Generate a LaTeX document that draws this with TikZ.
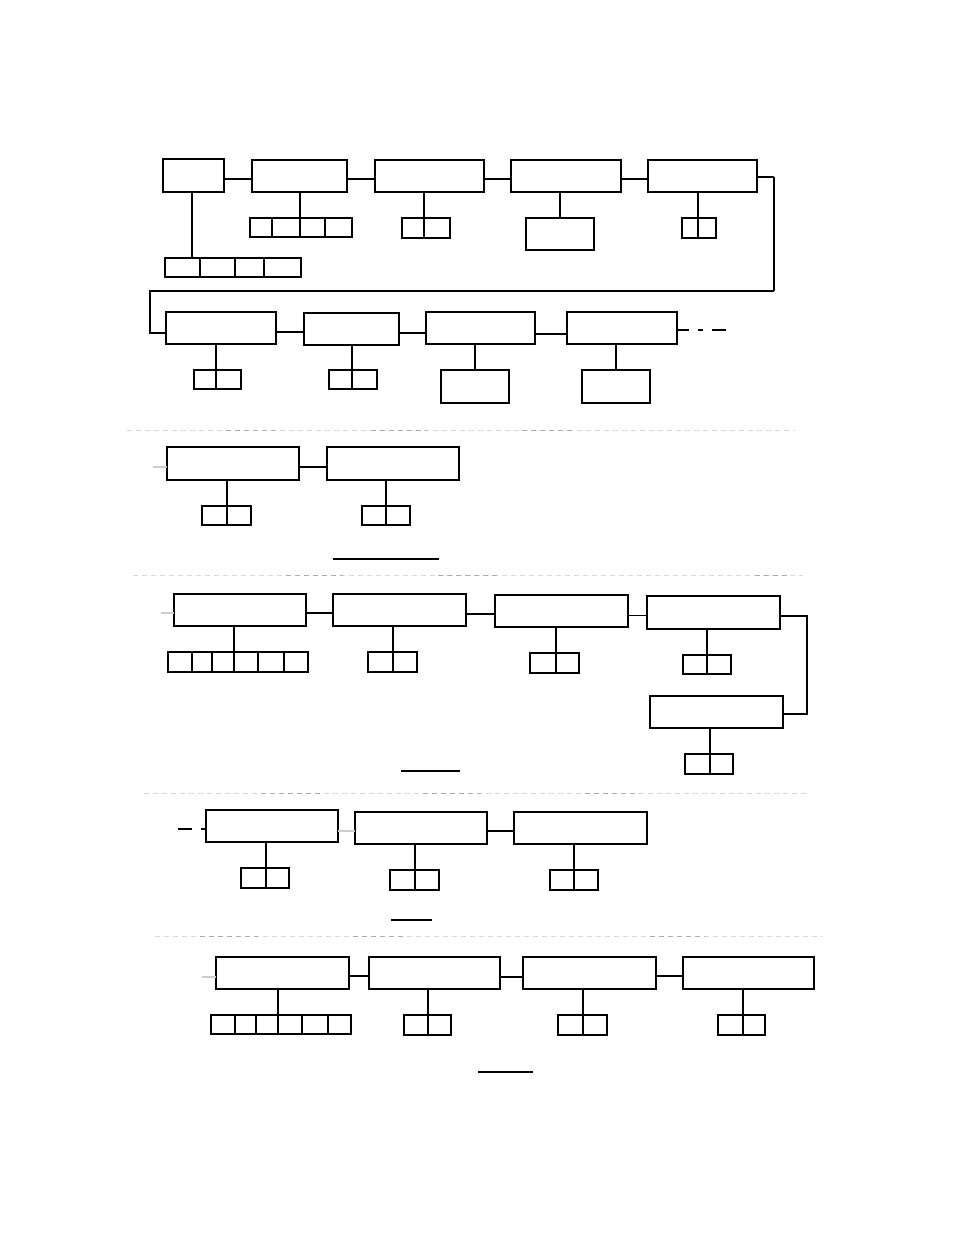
\documentclass[tikz,border=0pt]{standalone}
\begin{document}
\begin{tikzpicture}[x=1pt,y=-1pt,
  box/.style={draw,rectangle,line width=1.2pt,inner sep=0pt,outer sep=0pt},
  conn/.style={line width=1.2pt},
  heavy/.style={line width=2pt},
  stub/.style={line width=1.2pt,gray!40},
  sepline/.style={line width=1pt,gray!30,dash pattern=on 5pt off 4pt},
  sepdark/.style={line width=1pt,gray!65,dash pattern=on 5pt off 4pt}]
\useasboundingbox (0,0) rectangle (954,1235);
\newcommand\bx[5]{\node[box,minimum width={(#4-#2)*1pt},minimum height={(#5-#3)*1pt}] (#1) at ({(#2+#4)/2},{(#3+#5)/2}) {};}
\newcommand\cellrow[4]{\foreach \a/\b [count=\i] in {#4} {\node[box,minimum width={(\b-\a)*1pt},minimum height={(#3-#2)*1pt}] (#1-\i) at ({(\a+\b)/2},{(#2+#3)/2}) {};}}
% ---------------- row 1
\bx{A}{163}{159}{224}{192}
\bx{B}{252}{160}{347}{192}
\bx{C}{375}{160}{484}{192}
\bx{D}{511}{160}{621}{192}
\bx{E}{648}{160}{757}{192}
\cellrow{Ac}{258}{277}{165/200,200/235,235/264,264/301}
\cellrow{Bc}{218}{237}{250/272,272/300,300/325,325/352}
\cellrow{Cc}{218}{238}{402/424,424/450}
\bx{Ds}{526}{218}{594}{250}
\cellrow{Ec}{218}{238}{682/698,698/716}
\draw[conn] ([yshift=-3.5pt]A.east) -- ([yshift=-3pt]B.west);
\draw[conn] ([yshift=-3pt]B.east) -- ([yshift=-3pt]C.west);
\draw[conn] ([yshift=-3pt]C.east) -- ([yshift=-3pt]D.west);
\draw[conn] ([yshift=-3pt]D.east) -- ([yshift=-3pt]E.west);
\draw[conn] ([xshift=-1.5pt]A.south) -- ([xshift=-1.5pt]A.south |- Ac-1.north);
\draw[heavy] (B.south -| Bc-3.north west) -- (Bc-3.north west);
\draw[conn] (C.south -| Cc-2.north west) -- (Cc-2.north west);
\draw[conn] (D.south -| Ds.north) -- (Ds.north);
\draw[heavy] (E.south -| Ec-2.north west) -- (Ec-2.north west);
% ---------------- row 2
\bx{F}{166}{312}{276}{344}
\bx{G}{304}{313}{399}{345}
\bx{H}{426}{312}{535}{344}
\bx{I}{567}{312}{677}{344}
\cellrow{Fc}{370}{389}{194/216,216/241}
\cellrow{Gc}{370}{389}{329/352,352/377}
\bx{Hs}{441}{370}{509}{403}
\bx{Is}{582}{370}{650}{403}
\coordinate (r1) at (774,291);
\coordinate (r2) at (150,291);
\draw[conn] ([yshift=-1pt]E.east) -- ([yshift=-1pt]E.east -| r1);
\draw[heavy] ([yshift=-1pt]E.east -| r1) -- (r1);
\draw[conn] (r1) -- (r2) |- ([yshift=-5pt]F.west);
\draw[conn] ([yshift=-4pt]F.east) -- ([yshift=-4pt]F.east -| G.west);
\draw[conn] ([yshift=-4pt]G.east -| G.east) -- ([yshift=-4pt]G.east -| H.west);
\draw[conn] ([yshift=-6pt]H.east) -- ([yshift=-6pt]I.west);
\coordinate (d1) at (689,330);
\coordinate (d2) at (698,330);
\coordinate (d3) at (703,330);
\coordinate (d4) at (712,330);
\coordinate (d5) at (726,330);
\draw[conn] ([yshift=-2pt]I.east) -- (d1);
\draw[conn] (d2) -- (d3);
\draw[conn] (d4) -- (d5);
\draw[conn] (F.south -| Fc-2.north west) -- (Fc-2.north west);
\draw[heavy] (G.south -| Gc-2.north west) -- (Gc-2.north west);
\draw[conn] (H.south -| Hs.north) -- (Hs.north);
\draw[conn] (I.south -| Is.north) -- (Is.north);
% separator 1
\draw[sepline] (127,430) -- (795,430);
\draw[sepdark] (226,430) -- (275,430);
\draw[sepdark] (371,430) -- (427,430);
\draw[sepdark] (522,430) -- (572,430);
% ---------------- row 3
\bx{J}{167}{447}{299}{480}
\bx{K}{327}{447}{459}{480}
\cellrow{Jc}{506}{525}{202/227,227/251}
\cellrow{Kc}{506}{525}{362/386,386/410}
\draw[stub] ([yshift=-3.5pt]J.west) -- ++(-14pt,0);
\draw[conn] ([yshift=-3.5pt]J.east) -- ([yshift=-3.5pt]K.west);
\draw[conn] (J.south -| Jc-2.north west) -- (Jc-2.north west);
\draw[conn] (K.south -| Kc-2.north west) -- (Kc-2.north west);
\draw[conn] (333,559) -- (439,559);
% separator 2
\draw[sepline] (133,575) -- (803,575);
\draw[sepdark] (286,575) -- (343,575);
\draw[sepdark] (438,575) -- (500,575);
\draw[sepdark] (755,575) -- (790,575);
% ---------------- row 4
\bx{L}{174}{594}{306}{626}
\bx{M}{333}{594}{466}{626}
\bx{N}{495}{595}{628}{627}
\bx{O}{647}{596}{780}{629}
\bx{P}{650}{696}{783}{728}
\cellrow{Lc}{652}{672}{168/192,192/212,212/234,234/258,258/284,284/308}
\cellrow{Mc}{652}{672}{368/393,393/417}
\cellrow{Nc}{653}{673}{530/556,556/579}
\cellrow{Oc}{655}{674}{683/707,707/731}
\cellrow{Pc}{754}{774}{685/710,710/733}
\draw[stub] ([yshift=-3pt]L.west) -- ++(-13pt,0);
\draw[conn] ([yshift=-3pt]L.east) -- ([yshift=-3pt]L.east -| M.west);
\draw[conn] ([yshift=-4pt]M.east) -- ([yshift=-4pt]M.east -| N.west);
\draw[conn] ([yshift=-4.5pt]N.east) -- ([yshift=-4.5pt]N.east -| O.west);
\coordinate (r3) at (807,616);
\draw[conn] ([yshift=-3.5pt]O.east) -- (r3) |- ([yshift=-2pt]P.east);
\draw[conn] (L.south -| Lc-4.north west) -- (Lc-4.north west);
\draw[conn] (M.south -| Mc-2.north west) -- (Mc-2.north west);
\draw[conn] (N.south -| Nc-2.north west) -- (Nc-2.north west);
\draw[conn] (O.south -| Oc-2.north west) -- (Oc-2.north west);
\draw[conn] (P.south -| Pc-2.north west) -- (Pc-2.north west);
\draw[conn] (401,771) -- (460,771);
% separator 3
\draw[sepline] (144,793) -- (810,793);
\draw[sepdark] (261,793) -- (320,793);
\draw[sepdark] (423,793) -- (481,793);
\draw[sepdark] (585,793) -- (640,793);
% ---------------- row 5
\bx{Q}{206}{810}{338}{842}
\bx{R}{355}{812}{487}{844}
\bx{S}{514}{812}{647}{844}
\cellrow{Qc}{868}{888}{241/266,266/289}
\cellrow{Rc}{870}{890}{390/415,415/439}
\cellrow{Sc}{870}{890}{550/574,574/598}
\coordinate (q1) at (178,829);
\coordinate (q2) at (192,829);
\draw[conn] (q1) -- (q2);
\draw[conn] ([yshift=-3pt]Q.west) -- ++(-5pt,0);
\draw[stub] ([yshift=-5pt]Q.east) -- ([yshift=-3pt]R.west);
\draw[conn] ([yshift=-3pt]R.east) -- ([yshift=-3pt]S.west);
\draw[conn] (Q.south -| Qc-2.north west) -- (Qc-2.north west);
\draw[conn] (R.south -| Rc-2.north west) -- (Rc-2.north west);
\draw[conn] (S.south -| Sc-2.north west) -- (Sc-2.north west);
\draw[conn] (391,920) -- (432,920);
% separator 4
\draw[sepline] (155,936) -- (823,936);
\draw[sepdark] (200,936) -- (258,936);
\draw[sepdark] (353,936) -- (405,936);
\draw[sepdark] (650,936) -- (705,936);
% ---------------- row 6
\bx{T}{216}{957}{349}{989}
\bx{U}{369}{957}{500}{989}
\bx{V}{523}{957}{656}{989}
\bx{W}{683}{957}{814}{989}
\cellrow{Tc}{1015}{1034}{211/235,235/256,256/278,278/302,302/328,328/351}
\cellrow{Uc}{1015}{1035}{404/428,428/451}
\cellrow{Vc}{1015}{1035}{558/583,583/607}
\cellrow{Wc}{1015}{1035}{718/743,743/765}
\draw[stub] ([yshift=-4pt]T.west) -- ++(-14pt,0);
\draw[conn] ([yshift=-3pt]T.east) -- ([yshift=-3pt]U.west);
\draw[conn] ([yshift=-4pt]U.east) -- ([yshift=-4pt]V.west);
\draw[conn] ([yshift=-3pt]V.east) -- ([yshift=-3pt]W.west);
\draw[conn] (T.south -| Tc-4.north west) -- (Tc-4.north west);
\draw[conn] (U.south -| Uc-2.north west) -- (Uc-2.north west);
\draw[conn] (V.south -| Vc-2.north west) -- (Vc-2.north west);
\draw[conn] (W.south -| Wc-2.north west) -- (Wc-2.north west);
\draw[conn] (478,1072) -- (533,1072);
\end{tikzpicture}
\end{document}
